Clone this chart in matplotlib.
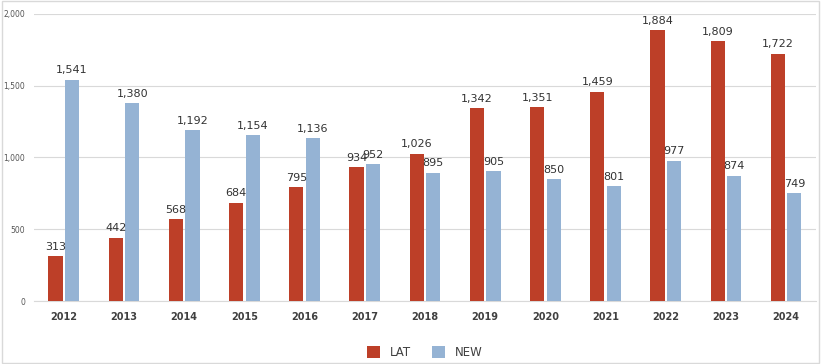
import matplotlib.pyplot as plt
import numpy as np
from matplotlib.patches import Rectangle

years = ["2012", "2013", "2014", "2015", "2016", "2017", "2018",
         "2019", "2020", "2021", "2022", "2023", "2024"]
lat = [313, 442, 568, 684, 795, 934, 1026, 1342, 1351, 1459, 1884, 1809, 1722]
new = [1541, 1380, 1192, 1154, 1136, 952, 895, 905, 850, 801, 977, 874, 749]
yticks = [0, 500, 1000, 1500, 2000]

LAT_COLOR = "#BD3F28"
NEW_COLOR = "#95B3D4"

fig = plt.figure(figsize=(8.22, 3.64), dpi=100)
fig.patches.append(Rectangle((0.002, 0.004), 0.994, 0.992, transform=fig.transFigure,
                             fill=False, edgecolor="#d9d9d9", linewidth=1))
ax = fig.add_axes([0.041, 0.173, 0.952, 0.789])

x = np.arange(len(years))
w = 0.235
gap = 0.02
b1 = ax.bar(x - w / 2 - gap, lat, width=w, color=LAT_COLOR, label="LAT", zorder=3)
b2 = ax.bar(x + w / 2 + gap, new, width=w, color=NEW_COLOR, label="NEW", zorder=3)

for bars in (b1, b2):
    for r in bars:
        ax.text(r.get_x() + r.get_width() / 2, r.get_height() + 30,
                f"{int(r.get_height()):,}", ha="center", va="bottom",
                fontsize=8, color="#333333")

ax.set_xlim(-0.5, len(years) - 0.5)
ax.set_ylim(0, 2000)
ax.set_yticks(yticks)
ax.set_yticklabels([f"{v:,}" for v in yticks], fontsize=5.5, color="#555555")
ax.set_xticks(x)
ax.set_xticklabels(years, fontsize=7, fontweight="bold", color="#404040")
ax.tick_params(axis="both", length=0)
ax.tick_params(axis="x", pad=8)
ax.tick_params(axis="y", pad=6)
ax.grid(axis="y", color="#d9d9d9", linewidth=0.8, zorder=0)
for s in ["top", "right", "left"]:
    ax.spines[s].set_visible(False)
ax.spines["bottom"].set_color("#d9d9d9")

ax.legend(loc="upper center", bbox_to_anchor=(0.5, -0.12), ncol=2, frameon=False,
          fontsize=8.5, handlelength=1.1, handleheight=1.1, columnspacing=1.8,
          labelcolor="#404040")

fig.savefig("out.png", dpi=100)
